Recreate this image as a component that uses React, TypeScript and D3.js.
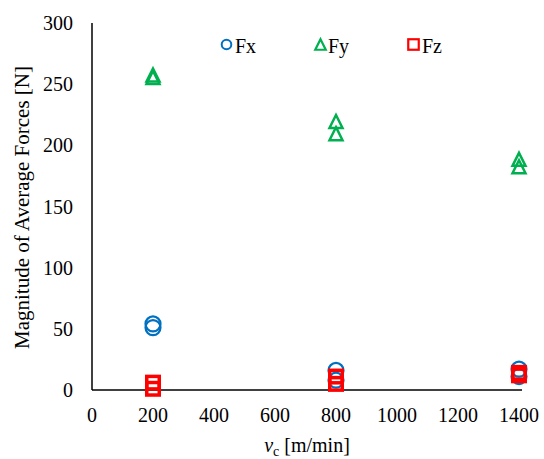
import * as d3 from 'd3';

const speeds = [200, 200, 800, 800, 1400, 1400];
const fx = [54, 51, 16, 8, 17, 11];
const fy = [257, 255, 219, 209, 188, 182];
const fz = [6, 1, 11, 5, 14, 12];
const xTicks = [0, 200, 400, 600, 800, 1000, 1200, 1400];
const yTicks = [0, 50, 100, 150, 200, 250, 300];

const blue = '#0070C0';
const green = '#00B050';
const red = '#FF0000';
const font = 'Liberation Serif';

const x = d3.scaleLinear().domain([0, 1400]).range([92, 519]);
const y = d3.scaleLinear().domain([0, 300]).range([390, 23]);

function Circle({ cx, cy, r, sw }: { cx: number; cy: number; r: number; sw: number }) {
  return <circle cx={cx} cy={cy} r={r} fill="none" stroke={blue} strokeWidth={sw} />;
}

function Tri({ cx, cy, s, sw }: { cx: number; cy: number; s: number; sw: number }) {
  const p = d3.path();
  p.moveTo(cx, cy - s * 0.55);
  p.lineTo(cx + s / 2, cy + s * 0.45);
  p.lineTo(cx - s / 2, cy + s * 0.45);
  p.closePath();
  return <path d={p.toString()} fill="none" stroke={green} strokeWidth={sw} />;
}

function Sq({ cx, cy, s, sw }: { cx: number; cy: number; s: number; sw: number }) {
  return <rect x={cx - s / 2} y={cy - s / 2} width={s} height={s} fill="none" stroke={red} strokeWidth={sw} />;
}

export default function App() {
  const txt = { fontFamily: font, fontSize: 20 };
  return (
    <svg width={544} height={459} style={{ position: 'absolute', left: 0, top: 0, background: '#fff' }}>
      <line x1={x(0)} x2={x(0)} y1={y(0)} y2={y(300)} stroke="#000" strokeWidth={1.5} />
      <line x1={x(0)} x2={x(1400) + 3} y1={y(0)} y2={y(0)} stroke="#000" strokeWidth={1.5} />

      {yTicks.map(t => (
        <text key={t} x={73} y={y(t) + 7} textAnchor="end" style={txt}>{t}</text>
      ))}
      {xTicks.map(t => (
        <text key={t} x={x(t)} y={422} textAnchor="middle" style={txt}>{t}</text>
      ))}

      <text transform={`translate(29,${y(150) + 1}) rotate(-90)`} textAnchor="middle"
        style={{ fontFamily: font, fontSize: 21 }}>
        Magnitude of Average Forces [N]
      </text>
      <text x={307} y={452} textAnchor="middle" style={txt}>
        <tspan fontStyle="italic">v</tspan>
        <tspan dy={4} style={{ fontSize: 14 }}>c</tspan>
        <tspan dy={-4}> [m/min]</tspan>
      </text>

      <g>
        {speeds.map((s, i) => <Circle key={'x' + i} cx={x(s)} cy={y(fx[i])} r={7.5} sw={2.2} />)}
        {speeds.map((s, i) => <Tri key={'y' + i} cx={x(s)} cy={y(fy[i])} s={13} sw={2.5} />)}
        {speeds.map((s, i) => <Sq key={'z' + i} cx={x(s)} cy={y(fz[i])} s={12.5} sw={3.5} />)}
      </g>

      {/* legend */}
      <g>
        <Circle cx={226.5} cy={44.5} r={4.8} sw={2} />
        <text x={235} y={53} style={txt}>Fx</text>
        <Tri cx={320.5} cy={45} s={10.5} sw={2.2} />
        <text x={328} y={53} style={txt}>Fy</text>
        <Sq cx={413.5} cy={44.5} s={10.5} sw={2.2} />
        <text x={422} y={53} style={txt}>Fz</text>
      </g>
    </svg>
  );
}
